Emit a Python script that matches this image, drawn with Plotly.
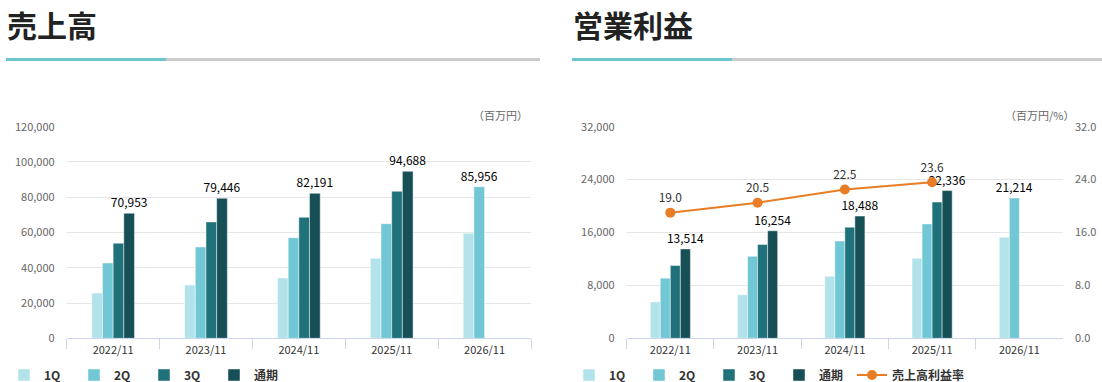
import plotly.graph_objects as go

W, H = 1102, 382

years = ["2022/11", "2023/11", "2024/11", "2025/11", "2026/11"]
series_names = ["1Q", "2Q", "3Q", "通期"]
colors = ["#b3e3ea", "#72c7d4", "#1f727a", "#174f57"]

sales_1q = [25700, 30200, 34200, 45400, 59600]
sales_2q = [42700, 51800, 57000, 65000, 85956]
sales_3q = [53900, 66000, 68600, 83400, None]
sales_fy = [70953, 79446, 82191, 94688, None]

op_1q = [5500, 6600, 9400, 12100, 15300]
op_2q = [9100, 12400, 14700, 17300, 21214]
op_3q = [11000, 14200, 16800, 20600, None]
op_fy = [13514, 16254, 18488, 22336, None]

margin = [19.0, 20.5, 22.5, 23.6, None]

sales_ticks = [0, 20000, 40000, 60000, 80000, 100000, 120000]
op_ticks = [0, 8000, 16000, 24000, 32000]
margin_ticks = [0, 8, 16, 24, 32]

FONT = "Noto Sans CJK JP"


def px_x(p):
    return p / W


def px_y(p):
    return 1 - p / H


def last_labels(series_list):
    # label the latest available cumulative value of each year
    out = [["" for _ in years] for _ in series_list]
    for i in range(len(years)):
        for k in range(len(series_list) - 1, -1, -1):
            v = series_list[k][i]
            if v is not None:
                out[k][i] = f"{v:,}"
                break
    return out


fig = go.Figure()

sales = [sales_1q, sales_2q, sales_3q, sales_fy]
ops = [op_1q, op_2q, op_3q, op_fy]
sales_txt = last_labels(sales)
op_txt = last_labels(ops)

for k in range(4):
    fig.add_trace(go.Bar(
        x=years, y=sales[k], name=series_names[k], text=sales_txt[k],
        textposition="outside", constraintext="none", cliponaxis=False,
        textfont=dict(size=12, color="#000000", family=FONT),
        marker=dict(color=colors[k], line=dict(color="rgba(255,255,255,0.45)", width=1)),
        xaxis="x", yaxis="y", legend="legend",
    ))

for k in range(4):
    fig.add_trace(go.Bar(
        x=years, y=ops[k], name=series_names[k], text=op_txt[k],
        textposition="outside", constraintext="none", cliponaxis=False,
        textfont=dict(size=12, color="#000000", family=FONT),
        marker=dict(color=colors[k], line=dict(color="rgba(255,255,255,0.45)", width=1)),
        xaxis="x2", yaxis="y2", legend="legend2",
    ))

fig.add_trace(go.Scatter(
    x=years, y=margin, name="売上高利益率", mode="lines+markers+text",
    text=[f"{v:.1f}" if v is not None else "" for v in margin],
    textposition="top center", cliponaxis=False,
    textfont=dict(size=12, color="#333333", family=FONT),
    line=dict(color="#e87d25", width=2),
    marker=dict(color="#e87d25", size=10),
    xaxis="x2", yaxis="y3", legend="legend3",
))

y_dom = [px_y(338.3), px_y(126.7)]

xcommon = dict(
    type="category", showline=True, linecolor="#ccd6eb", linewidth=1,
    ticks="outside", ticklen=10, tickcolor="#ccd6eb", tickson="boundaries",
    showgrid=False, tickfont=dict(size=11, color="#333333", family=FONT),
    ticklabelstandoff=1, fixedrange=True,
)
ycommon = dict(
    showgrid=True, gridcolor="#e6e6e6", gridwidth=1, zeroline=False,
    showline=False, ticks="", tickfont=dict(size=11, color="#666666", family=FONT),
    ticklabelstandoff=11, fixedrange=True,
)

legend_common = dict(
    orientation="h", xanchor="left", yanchor="middle",
    entrywidth=25, entrywidthmode="pixels", itemwidth=30,
    font=dict(size=12, color="#333333", family=FONT, weight="bold"),
    bgcolor="rgba(0,0,0,0)", traceorder="normal",
)

fig.update_layout(
    width=W, height=H,
    margin=dict(l=0, r=0, t=0, b=0, autoexpand=False),
    paper_bgcolor="white", plot_bgcolor="white",
    font=dict(family=FONT, color="#333333"),
    barmode="group", bargap=0.54, bargroupgap=0,
    xaxis=dict(domain=[px_x(66.7), px_x(531)], anchor="y", **xcommon),
    yaxis=dict(domain=y_dom, anchor="x", range=[0, 120000], tickvals=sales_ticks,
               tickformat=",d", **ycommon),
    xaxis2=dict(domain=[px_x(626.7), px_x(1063)], anchor="y2", **xcommon),
    yaxis2=dict(domain=y_dom, anchor="x2", range=[0, 32000], tickvals=op_ticks,
                tickformat=",d", **ycommon),
    yaxis3=dict(overlaying="y2", side="right", anchor="x2", range=[0, 32],
                tickvals=margin_ticks, tickformat=".1f", showgrid=False, zeroline=False,
                showline=False, ticks="", tickfont=dict(size=11, color="#666666", family=FONT),
                ticklabelstandoff=11, fixedrange=True),
    legend=dict(x=px_x(4), y=px_y(375), **legend_common),
    legend2=dict(x=px_x(569), y=px_y(375), **legend_common),
    legend3=dict(x=px_x(852), y=px_y(375), orientation="h", xanchor="left", yanchor="middle",
                 itemwidth=30, font=dict(size=12, color="#333333", family=FONT, weight="bold"),
                 bgcolor="rgba(0,0,0,0)"),
    showlegend=True,
)

shapes = []
for (x0, x1, c) in [(6, 166, "#6cc5cf"), (166, 540, "#cccccc"),
                    (572, 732, "#6cc5cf"), (732, 1102, "#cccccc")]:
    shapes.append(dict(type="rect", xref="paper", yref="paper",
                       x0=px_x(x0), x1=px_x(x1), y0=px_y(61), y1=px_y(58),
                       fillcolor=c, line=dict(width=0)))
fig.update_layout(shapes=shapes)

annotations = [
    dict(text="<b>売上高</b>", x=px_x(5), y=1, xref="paper", yref="paper",
         xanchor="left", yanchor="top", showarrow=False,
         font=dict(size=30, color="#222222", family=FONT)),
    dict(text="<b>営業利益</b>", x=px_x(571), y=1, xref="paper", yref="paper",
         xanchor="left", yanchor="top", showarrow=False,
         font=dict(size=30, color="#222222", family=FONT)),
    dict(text="（百万円）", x=px_x(530), y=px_y(115), xref="paper", yref="paper",
         xanchor="right", yanchor="middle", showarrow=False,
         font=dict(size=11, color="#666666", family=FONT)),
    dict(text="（百万円/%）", x=px_x(1076), y=px_y(115), xref="paper", yref="paper",
         xanchor="right", yanchor="middle", showarrow=False,
         font=dict(size=11, color="#666666", family=FONT)),
]
fig.update_layout(annotations=annotations)

fig.write_html("out.html", config=dict(displayModeBar=False))
